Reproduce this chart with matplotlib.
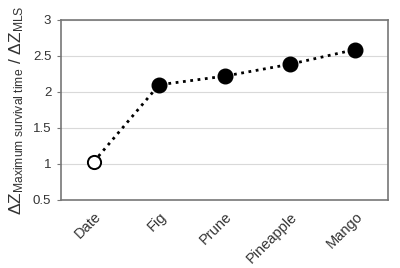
import matplotlib
matplotlib.use("Agg")
import matplotlib.pyplot as plt

plt.rcParams['font.family'] = ['Liberation Sans', 'DejaVu Sans']
plt.rcParams['mathtext.fontset'] = 'custom'
plt.rcParams['mathtext.rm'] = 'Liberation Sans'
plt.rcParams['mathtext.it'] = 'Liberation Sans'

categories = ["Date", "Fig", "Prune", "Pineapple", "Mango"]
values = [1.03, 2.10, 2.22, 2.385, 2.59]
yticks = [0.5, 1, 1.5, 2, 2.5, 3]
ytick_labels = ["0.5", "1", "1.5", "2", "2.5", "3"]

fig = plt.figure(figsize=(4.0, 2.68), dpi=100)
ax = fig.add_axes([61/400, 1-200/268, 327/400, 180/268])

x = list(range(len(categories)))
ax.plot(x, values, linestyle=':', color='black', linewidth=2.0, zorder=2)
ax.plot(x[:1], values[:1], 'o', markersize=9.5, markerfacecolor='white',
        markeredgecolor='black', markeredgewidth=1.4, zorder=3)
ax.plot(x[1:], values[1:], 'o', markersize=10.5, markerfacecolor='black',
        markeredgecolor='black', zorder=3)

ax.set_xlim(-0.5, 4.5)
ax.set_ylim(0.5, 3)
ax.set_yticks(yticks)
ax.set_yticklabels(ytick_labels, fontsize=9.5, color='#333333')
ax.set_xticks(x)
ax.set_xticklabels(categories, rotation=45, ha='right', rotation_mode='anchor',
                   fontsize=10.5, color='#333333')
ax.tick_params(axis='x', length=0, pad=7)
ax.tick_params(axis='y', length=3, width=0.8, color='#777777', pad=4)
ax.grid(axis='y', color='#d9d9d9', linewidth=0.8)
ax.set_axisbelow(True)
for s in ax.spines.values():
    s.set_color('#777777')
    s.set_linewidth(1.2)

ax.set_ylabel(r'$\Delta Z_{\mathrm{Maximum\ survival\ time}}$ / $\Delta Z_{\mathrm{MLS}}$',
              fontsize=12.5, color='#333333', labelpad=5)

fig.savefig("out.png", dpi=100)
